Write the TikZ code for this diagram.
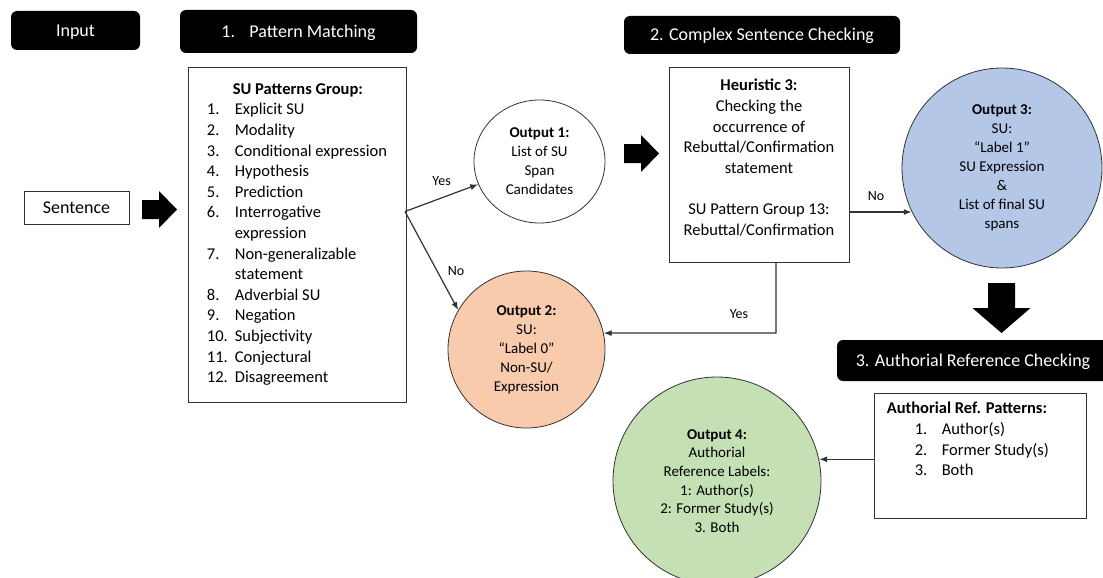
\documentclass[tikz,border=0pt]{standalone}
\usepackage{fontspec}
\setmainfont{Carlito}
\usetikzlibrary{positioning, arrows.meta, shapes.geometric}

\definecolor{peach}{RGB}{248,203,173}
\definecolor{paleblue}{RGB}{180,199,231}
\definecolor{palegreen}{RGB}{197,224,180}
\definecolor{edge}{RGB}{50,50,50}

\tikzset{
  stage/.style={fill=black, text=white, rounded corners=6pt, inner sep=0pt,
    text height=11.6pt, text depth=0pt, font=\fontsize{18}{22}\selectfont},
  panel/.style={draw=edge, line width=0.9pt, fill=white},
  bubble/.style={ellipse, draw=edge, line width=0.8pt, align=center, inner sep=0pt,
    font=\fontsize{15}{19}\selectfont},
  link/.style={draw=edge, line width=1.2pt, -{Latex[length=8pt, width=6pt]}},
  tag/.style={font=\fontsize{14}{16}\selectfont},
  fatright/.pic={\fill (0,-9.5) -- (17,-9.5) -- (17,-18.5) -- (35,0) -- (17,18.5) -- (17,9.5) -- (0,9.5) -- cycle;},
  fatdown/.pic={\fill (-13.5,0) -- (13.5,0) -- (13.5,25) -- (29,25) -- (0,50) -- (-29,25) -- (-13.5,25) -- cycle;}
}

\begin{document}
\begin{tikzpicture}[x=1pt, y=-1pt, every node/.style={font=\fontsize{16.5}{20.6}\selectfont}]
    \useasboundingbox (0,0) rectangle (1103,578);

    % Stage headers
    \node (hdInput) [stage, minimum width=129pt, minimum height=39pt] at (75.5,30.5) {Input};
    \node (hdMatch) [stage, minimum width=237pt, minimum height=43pt] at (298.5,31.5) {1.\hspace{0.8em}Pattern Matching};
    \node (hdComplex) [stage, minimum width=276pt, minimum height=38pt] at (762,35) {2. Complex Sentence Checking};
    \node (hdAuthor) [stage, minimum width=272pt, minimum height=41pt] at (973,360.5) {3. Authorial Reference Checking};

    % Input and pattern matching
    \node (sentence) [panel, minimum width=105pt, minimum height=33pt, font=\fontsize{18}{22}\selectfont] at (76.5,207.5) {Sentence};
    \pic (arrA) at (142,209.5) {fatright};
    \node (suBox) [panel, align=left, minimum width=218pt, minimum height=335pt] at (297,234.5) {
      \hspace*{26pt}\textbf{SU Patterns Group:}\\
      \makebox[28pt][l]{1.}Explicit SU\\
      \makebox[28pt][l]{2.}Modality\\
      \makebox[28pt][l]{3.}Conditional expression\\
      \makebox[28pt][l]{4.}Hypothesis\\
      \makebox[28pt][l]{5.}Prediction\\
      \makebox[28pt][l]{6.}Interrogative\\
      \hspace*{28pt}expression\\
      \makebox[28pt][l]{7.}Non-generalizable\\
      \hspace*{28pt}statement\\
      \makebox[28pt][l]{8.}Adverbial SU\\
      \makebox[28pt][l]{9.}Negation\\
      \makebox[28pt][l]{10.}Subjectivity\\
      \makebox[28pt][l]{11.}Conjectural\\
      \makebox[28pt][l]{12.}Disagreement};

    % Outputs of pattern matching
    \node (out1) [bubble, fill=white, minimum width=131pt, minimum height=123pt] at (539.5,161.5)
      {\textbf{Output 1:}\\List of SU\\Span\\Candidates};
    \node (out2) [bubble, fill=peach, minimum width=157pt, minimum height=157pt] at (526.5,349.5)
      {\textbf{Output 2:}\\SU:\\“Label 0”\\Non-SU/\\Expression};
    \coordinate (fork) at (405,211.5);
    \draw[link] (fork) -- node[tag, pos=0.5, above=8pt] {Yes} (out1);
    \draw[link] (fork) -- node[tag, pos=0.6, right=7pt] {No} (out2.150);

    % Complex sentence checking
    \pic (arrB) at (624,153.5) {fatright};
    \node (heur) [panel, align=center, minimum width=180pt, minimum height=195pt] at (759,164.5) {
      \textbf{Heuristic 3:}\\Checking the\\occurrence of\\Rebuttal/Confirmation\\statement\\[20.6pt]
      SU Pattern Group 13:\\Rebuttal/Confirmation\\[-6pt]\mbox{}};
    \node (out3) [bubble, fill=paleblue, minimum size=200pt] at (1002,168)
      {\textbf{Output 3:}\\SU:\\“Label 1”\\SU Expression\\\&\\List of final SU\\spans};
    \draw[link] (heur.east |- out3.206) -- (out3.206);
    \node (noB) [tag] at (876,196) {No};
    \coordinate (yesTurn) at (776,333);
    \draw[link] (heur.south -| yesTurn) -- (yesTurn) -- (out2.12);
    \node (yesB) [tag] at (739,314) {Yes};

    % Authorial reference checking
    \pic (arrC) at (1001.5,283) {fatdown};
    \node (refBox) [panel, minimum width=212pt, minimum height=125pt] at (980,455.5) {};
    \node (refList) [anchor=north west, align=left, inner sep=0pt] at ([shift={(13,9.5)}]refBox.north west) {
      \textbf{Authorial Ref. Patterns:}\\
      \hspace*{28pt}\makebox[27pt][l]{1.}Author(s)\\
      \hspace*{28pt}\makebox[27pt][l]{2.}Former Study(s)\\
      \hspace*{28pt}\makebox[27pt][l]{3.}Both};
    \node (out4) [bubble, fill=palegreen, minimum size=208pt, font=\fontsize{15}{18.6}\selectfont] at (717,481)
      {\textbf{Output 4:}\\Authorial\\Reference Labels:\\1: Author(s)\\2: Former Study(s)\\3. Both};
    \draw[link] (refBox.west |- out4.12) -- (out4.12);
\end{tikzpicture}
\end{document}
